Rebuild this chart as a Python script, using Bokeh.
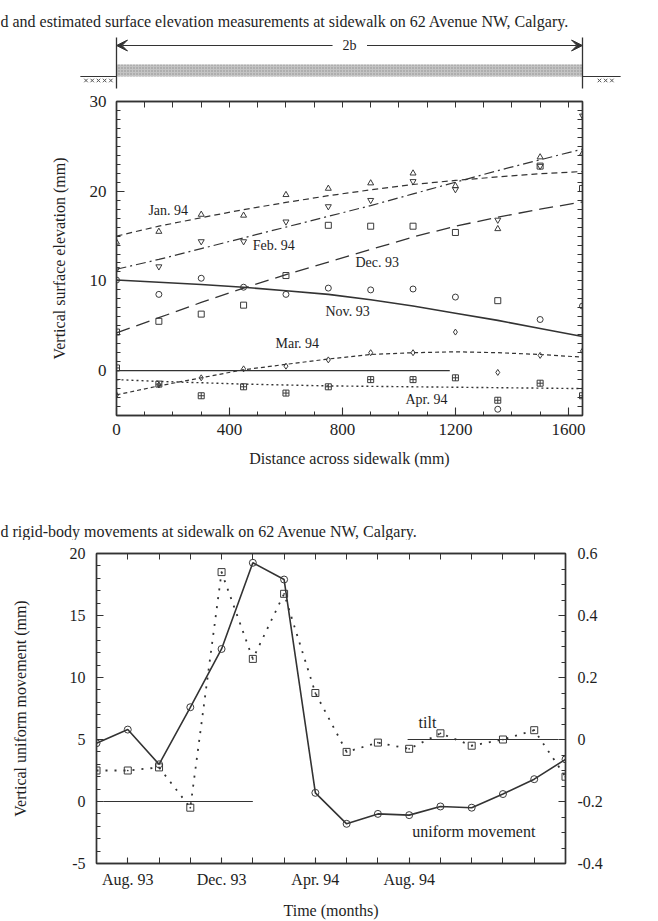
import math

from bokeh.embed import file_html
from bokeh.layouts import column, row
from bokeh.models import (Arrow, FixedTicker, Label, LinearAxis, PrintfTickFormatter,
                          Range1d, VeeHead)
from bokeh.plotting import figure
from bokeh.resources import INLINE

FONT = "Liberation Serif"
INK = "#1e1e1e"
AXIS = "#333333"

# ---- Surface elevation across the sidewalk (mm) ----
distance = [0, 150, 300, 450, 600, 750, 900, 1050, 1200, 1350, 1500, 1650]

# measured elevations
nov93_meas = [10.1, 8.5, 10.3, 9.3, 8.5, 9.2, 9.0, 9.1, 8.2, -4.3, 5.7, 7.2]
dec93_meas = [4.3, 5.5, 6.3, 7.3, 10.6, 16.2, 16.1, 16.1, 15.4, 7.8, 22.8, 20.3]
jan94_meas = [14.3, 15.5, 17.4, 17.3, 19.6, 20.3, 20.9, 22.0, 20.6, 15.8, 23.8, 24.2]
feb94_meas = [11.3, 11.6, 14.4, 14.4, 16.6, 18.3, 19.0, 21.1, 20.2, 16.8, 22.8, 28.4]
mar94_meas = [-2.7, -1.6, -0.8, 0.2, 0.5, 1.2, 2.0, 2.0, 4.3, -0.2, 1.7, 2.2]
apr94_meas = [0.3, -1.5, -2.8, -1.8, -2.5, -1.8, -1.0, -1.0, -0.8, -3.3, -1.4, -2.8]

# estimated (fitted) profiles
nov93_est = [10.1, 9.85, 9.6, 9.3, 8.9, 8.5, 7.9, 7.2, 6.4, 5.6, 4.7, 3.8]
dec93_est = [4.2, 5.9, 7.6, 9.2, 10.7, 12.1, 13.5, 14.9, 16.1, 17.1, 18.0, 18.8]
jan94_est = [15.0, 16.1, 17.05, 17.95, 18.75, 19.5, 20.15, 20.75, 21.2, 21.6, 21.95, 22.2]
feb94_est = [11.3, 12.4, 13.6, 14.8, 16.0, 17.2, 18.4, 19.7, 21.0, 22.3, 23.5, 24.7]
mar94_est = [-2.7, -1.7, -0.8, 0.1, 0.7, 1.3, 1.8, 2.0, 2.1, 2.0, 1.8, 1.5]
apr94_est = [-1.0, -1.2, -1.35, -1.5, -1.6, -1.7, -1.75, -1.8, -1.85, -1.9, -1.95, -2.0]

zero_line_x = [0, 1180]
zero_line_y = [0, 0]

# ---- Rigid-body movements over time ----
survey = list(range(16))
uniform = [4.7, 5.8, 3.0, 7.6, 12.3, 19.25, 17.9, 0.7, -1.8, -1.0, -1.1, -0.4, -0.5, 0.6, 1.8, 3.4]
tilt = [-0.10, -0.10, -0.09, -0.22, 0.54, 0.26, 0.47, 0.15, -0.04, -0.01, -0.03, 0.02, -0.02, 0.00, 0.03, -0.12]
month_labels = {1: "Aug. 93", 4: "Dec. 93", 7: "Apr. 94", 10: "Aug. 94"}

uniform_ref_x = [0.22, 5.0]
uniform_ref_y = [0, 0]
tilt_ref_x = [9.95, 14.77]
tilt_ref_y = [0, 0]

caption_1 = "d and estimated surface elevation measurements at sidewalk on 62 Avenue NW, Calgary."
caption_2 = "d rigid-body movements at sidewalk on 62 Avenue NW, Calgary."


def blank(height, x_range, y_range):
    f = figure(width=658, height=height, x_range=x_range, y_range=y_range,
               toolbar_location=None, output_backend="svg", min_border=0,
               x_axis_type=None, y_axis_type=None)
    f.outline_line_color = None
    return f


def frame_axis(ax, major, minor, tick_in=7, size="16px"):
    ax.ticker = FixedTicker(ticks=major, minor_ticks=minor)
    ax.axis_line_color = AXIS
    ax.axis_line_width = 1.4
    ax.major_tick_line_color = AXIS
    ax.minor_tick_line_color = AXIS
    ax.major_tick_line_width = 1.1
    ax.minor_tick_line_width = 1.0
    ax.major_tick_in = tick_in
    ax.major_tick_out = 0
    ax.minor_tick_in = 4
    ax.minor_tick_out = 0
    ax.major_label_text_font = FONT
    ax.major_label_text_color = INK
    ax.major_label_text_font_size = size
    ax.axis_label_text_font = FONT
    ax.axis_label_text_font_style = "normal"
    ax.axis_label_text_font_size = "16px"
    ax.axis_label_text_color = INK


def mirror_axis(fig, side, ticks, tick_in, **kw):
    # unlabeled opposite side of the box: only inward tick marks
    ax = LinearAxis(**kw)
    ax.ticker = FixedTicker(ticks=[], minor_ticks=ticks)
    ax.axis_line_color = AXIS
    ax.axis_line_width = 1.4
    ax.minor_tick_line_color = AXIS
    ax.minor_tick_line_width = 1.0
    ax.minor_tick_in = tick_in
    ax.minor_tick_out = 0
    ax.major_tick_out = 0
    ax.major_label_standoff = 0
    fig.add_layout(ax, side)
    return ax


def note(fig, x, y, text, size="14px", align="left", **kw):
    fig.add_layout(Label(x=x, y=y, text=text, text_font=FONT, text_font_size=size,
                         text_color=INK, text_align=align, text_baseline="middle", **kw))


# ---------- header: caption and sidewalk sketch (x in mm) ----------
span = distance[-1]
px_per_mm = 466 / span
head = blank(92, Range1d(-116 / px_per_mm, 542 / px_per_mm), Range1d(92, 0))
note(head, -116 / px_per_mm, 21, caption_1, size="16px")
head.quad(left=0, right=span, top=64, bottom=76, fill_color="#c4c4c4", line_color=None,
          hatch_pattern=".", hatch_color="#8c8c8c", hatch_scale=3)
head.segment(x0=[0, span], y0=[37, 37], x1=[0, span], y1=[88, 88], line_color=AXIS, line_width=1.3)
head.segment(x0=[-128, span], y0=[76, 76], x1=[0, span + 135], y1=[76, 76],
             line_color=AXIS, line_width=1.2)
head.scatter(x=[-108, -86, -64, -42, -20], y=[80] * 5, marker="x", size=5,
             line_color="#555555", line_width=1)
head.scatter(x=[span + 60, span + 82, span + 104], y=[80] * 3, marker="x", size=5,
             line_color="#555555", line_width=1)
for x_from, x_to in ((span / 2 - 60, 0), (span / 2 + 62, span)):
    head.add_layout(Arrow(end=VeeHead(size=11, fill_color=AXIS, line_color=AXIS),
                          x_start=x_from, y_start=45, x_end=x_to, y_end=45,
                          line_color=AXIS, line_width=1.1))
note(head, span / 2, 45, "2b", size="14px", align="center")

# ---------- elevation profiles ----------
p1 = figure(width=658, height=388, x_range=Range1d(0, span), y_range=Range1d(-5, 30),
            toolbar_location=None, output_backend="svg",
            min_border_left=116, min_border_right=76, min_border_top=9, min_border_bottom=65)
p1.grid.visible = False
p1.outline_line_color = AXIS
p1.outline_line_width = 1.4
bottom1, left1 = p1.below[0], p1.left[0]
x_major = [0, 400, 800, 1200, 1600]
x_minor = list(range(0, 1700, 100))
y_major = [0, 10, 20, 30]
y_minor = list(range(-5, 31))
frame_axis(bottom1, x_major, x_minor, tick_in=8, size="17px")
frame_axis(left1, y_major, y_minor, tick_in=8, size="17px")
mirror_axis(p1, "above", x_minor, 6)
mirror_axis(p1, "right", y_minor, 5)
bottom1.axis_label = "Distance across sidewalk (mm)"
bottom1.major_label_standoff = 8
bottom1.axis_label_standoff = 12
left1.axis_label = "Vertical surface elevation (mm)"
left1.major_label_standoff = 10
left1.axis_label_standoff = 19

series = [
    (nov93_meas, nov93_est, "circle", None, 1.6),
    (dec93_meas, dec93_est, "square", "14 7", 1.3),
    (jan94_meas, jan94_est, "triangle", "6 4", 1.2),
    (feb94_meas, feb94_est, "inverted_triangle", "10 4 2 4", 1.2),
    (mar94_meas, mar94_est, "diamond", "4 3", 1.2),
    (apr94_meas, apr94_est, "square_cross", "2 3", 1.4),
]
for meas, est, marker, dash, lw in series:
    p1.line(distance, est, line_color=AXIS, line_width=lw,
            line_dash=dash if dash else "solid")
    p1.scatter(distance, meas, marker=marker, size=6, fill_color=None,
               line_color="#3a3a3a", line_width=1)
p1.line(zero_line_x, zero_line_y, line_color=AXIS, line_width=1.1)

note(p1, 113, 17.8, "Jan. 94")
note(p1, 482, 13.9, "Feb. 94")
note(p1, 846, 12.0, "Dec. 93")
note(p1, 740, 6.6, "Nov. 93")
note(p1, 563, 3.0, "Mar. 94")
note(p1, 1023, -3.2, "Apr. 94")

# ---------- caption for the movement chart ----------
cap = blank(60, Range1d(0, 658), Range1d(60, 0))
note(cap, 0, 51, caption_2, size="16px")

# ---------- uniform movement and tilt ----------
p2 = figure(width=658, height=381, x_range=Range1d(survey[0], survey[-1]),
            y_range=Range1d(-5, 20), toolbar_location=None, output_backend="svg",
            min_border_left=96, min_border_right=93, min_border_top=13, min_border_bottom=55)
p2.extra_y_ranges = {"tilt": Range1d(-0.4, 0.6)}
p2.grid.visible = False
p2.outline_line_color = AXIS
p2.outline_line_width = 1.4
p2.add_layout(LinearAxis(y_range_name="tilt"), "right")
bottom2, left2, right2 = p2.below[0], p2.left[0], p2.right[0]
labelled = sorted(month_labels)
frame_axis(bottom2, labelled, [i for i in survey if i not in month_labels], tick_in=6)
bottom2.minor_tick_in = 6
mirror_axis(p2, "above", survey, 6)
frame_axis(left2, [-5, 0, 5, 10, 15, 20], list(range(-5, 21)), tick_in=7)
tilt_major = [-0.4, -0.2, 0.0, 0.2, 0.4, 0.6]
tilt_minor = [round(-0.4 + 0.05 * i, 2) for i in range(21)]
frame_axis(right2, tilt_major, tilt_minor, tick_in=7)
bottom2.major_label_overrides = month_labels
bottom2.axis_label = "Time (months)"
bottom2.major_label_standoff = 7
bottom2.axis_label_standoff = 11
left2.formatter = PrintfTickFormatter(format="%d")
left2.axis_label = "Vertical uniform movement (mm)"
left2.major_label_standoff = 11
left2.axis_label_standoff = 38
right2.formatter = PrintfTickFormatter(format="%g")
right2.major_label_standoff = 12

p2.line(uniform_ref_x, uniform_ref_y, line_color=AXIS, line_width=1.1)
p2.line(tilt_ref_x, tilt_ref_y, y_range_name="tilt", line_color=AXIS, line_width=1.1)
p2.line(survey, tilt, y_range_name="tilt", line_color=AXIS, line_width=1.8, line_dash="2 7")
p2.scatter(survey, tilt, y_range_name="tilt", marker="square_dot", size=7,
           fill_color=None, line_color="#3a3a3a", line_width=1)
p2.line(survey, uniform, line_color=AXIS, line_width=1.6)
p2.scatter(survey, uniform, marker="circle", size=7, fill_color=None,
           line_color="#3a3a3a", line_width=1)

note(p2, 10.3, 6.4, "tilt", size="16px")
note(p2, 10.1, -2.4, "uniform movement", size="16px")
note(p2, 17.4, 9.2, "Tilt (degrees)", size="16px", align="center", angle=math.pi / 2)

# each figure sits in its own row so the frames keep their own borders
page = column(row(head), row(p1), row(cap), row(p2), spacing=0)
open("out.html", "w").write(file_html(page, INLINE))
